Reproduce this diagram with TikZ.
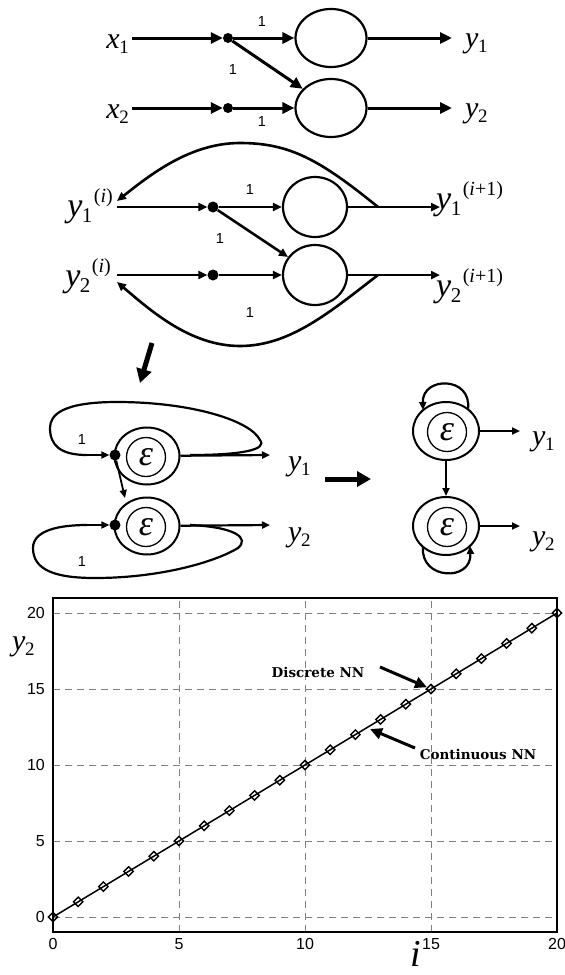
\documentclass[tikz,border=0pt]{standalone}
\usepackage{fontspec}
\setmainfont{Liberation Serif}
\newfontfamily\arialf{Liberation Sans}
\newfontfamily\dvserif{DejaVu Serif}
\usetikzlibrary{arrows.meta,shapes.geometric}
\newcommand\vsub[2]{{\fontsize{30}{30}\selectfont\itshape #1}\kern-0.5pt\raisebox{-5pt}{\fontsize{19}{19}\selectfont #2}}
\newcommand\bigvsub[2]{{\fontsize{34}{34}\selectfont\itshape #1}\kern-0.5pt\raisebox{-6pt}{\fontsize{21}{21}\selectfont #2}}
\newcommand\vsubsup[3]{\bigvsub{#1}{#2}\kern1.5pt\raisebox{14pt}{\fontsize{20}{20}\selectfont (#3)}}
\newcommand\epsglyph{{\fontsize{36}{36}\selectfont\itshape ε}}
\begin{document}
\begin{tikzpicture}[x=1pt,y=-1pt,
  wire/.style={line width=3pt},
  wiretwo/.style={line width=2.6pt},
  wirethree/.style={line width=2.2pt},
  tipA/.style={-{Triangle[length=12pt,width=11pt]}},
  tipB/.style={-{Triangle[length=9pt,width=8pt]}},
  tipC/.style={-{Triangle[length=8pt,width=7pt]}},
  bigarrow/.style={line width=5pt,-{Triangle[length=14pt,width=15pt]}},
  neuron/.style={draw,ellipse,line width=2.2pt,inner sep=0},
  inner/.style={draw,circle,line width=1.3pt,inner sep=0,minimum size=39pt},
  junc/.style={circle,fill,inner sep=0,minimum size=10pt},
  one/.style={font=\arialf\fontsize{14.5}{14.5}\selectfont,inner sep=0},
  lab/.style={inner sep=0},
  tick/.style={font=\arialf\fontsize{16}{16}\selectfont,inner sep=0},
  grid/.style={draw=gray,line width=1pt,dash pattern=on 7pt off 5pt},
  note/.style={font=\dvserif\bfseries\fontsize{13.5}{13.5}\selectfont,inner sep=0},
]
\useasboundingbox (0,0) rectangle (565,975);

% ---------- top network ----------
\node[neuron,minimum width=71pt,minimum height=58pt] (n1) at (331,38) {};
\node[neuron,minimum width=71pt,minimum height=58pt] (n2) at (331,108) {};
\node[junc] (j1) at (228,38) {};
\node[junc] (j2) at (228,108) {};
\node[lab,anchor=base east] (x1) at (129,48) {\vsub{x}{1}};
\node[lab,anchor=base east] (x2) at (129,118) {\vsub{x}{2}};
\coordinate (x1s) at (132,38);
\coordinate (x2s) at (132,108);
\draw[wire,tipA] (x1s) -- (j1);
\draw[wire,tipA] (x2s) -- (j2);
\draw[wire,tipA] (j1) -- (n1);
\draw[wire,tipA] (j2) -- (n2);
\draw[wire,tipA] (j1) -- (n2);
\coordinate (y1e) at (452,38);
\coordinate (y2e) at (452,108);
\draw[wire,tipA] (n1) -- (y1e);
\draw[wire,tipA] (n2) -- (y2e);
\node[lab,anchor=base west] (y1) at (465,47) {\vsub{y}{1}};
\node[lab,anchor=base west] (y2) at (465,117) {\vsub{y}{2}};
\node[one] (w11) at (262,22) {1};
\node[one] (w12) at (233,70) {1};
\node[one] (w22) at (262,122) {1};

% ---------- iterative network ----------
\node[neuron,minimum width=64pt,minimum height=60pt] (m1) at (315,207) {};
\node[neuron,minimum width=64pt,minimum height=60pt] (m2) at (315,275) {};
\node[junc,minimum size=11pt] (k1) at (213,207) {};
\node[junc,minimum size=11pt] (k2) at (213,275) {};
\coordinate (s1) at (117,207);
\coordinate (s2) at (117,275);
\draw[wiretwo,tipB] (s1) -- (k1);
\draw[wiretwo,tipB] (s2) -- (k2);
\draw[wiretwo,tipB] (k1) -- (m1);
\draw[wiretwo,tipB] (k2) -- (m2);
\draw[wiretwo,tipB] (k1) -- (m2);
\coordinate (o1) at (440,207);
\coordinate (o2) at (440,275);
\draw[wiretwo,tipB] (m1) -- (o1);
\draw[wiretwo,tipB] (m2) -- (o2);
\coordinate (b1) at (378,207);
\coordinate (b2) at (378,275);
\coordinate (f1) at (117,201);
\coordinate (f2) at (117,282);
\draw[wiretwo,tipB] (b1) .. controls (320,160) and (290,143) .. (240,143) .. controls (190,143) and (150,175) .. (f1);
\draw[wiretwo,tipB] (b2) .. controls (330,312) and (290,346) .. (240,346) .. controls (190,346) and (150,310) .. (f2);
\node[lab,anchor=base east] (yi1) at (113,216) {\vsubsup{y}{1}{\textit{i}}};
\node[lab,anchor=base east] (yi2) at (111,286) {\vsubsup{y}{2}{\textit{i}}};
\node[lab,anchor=base west] (yo1) at (436,209) {\vsubsup{y}{1}{\textit{i}+1}};
\node[lab,anchor=base west] (yo2) at (436,296) {\vsubsup{y}{2}{\textit{i}+1}};
\node[one] (v11) at (250,190) {1};
\node[one] (v12) at (220,239) {1};
\node[one] (v22) at (250,313) {1};

% ---------- transition arrows ----------
\coordinate (da1) at (152,343);
\coordinate (da2) at (140,383);
\draw[bigarrow] (da1) -- (da2);
\coordinate (ra1) at (325,479);
\coordinate (ra2) at (371,479);
\draw[bigarrow] (ra1) -- (ra2);

% ---------- left epsilon network ----------
\node[neuron,line width=2pt,minimum width=65pt,minimum height=57pt] (e1) at (147,456) {};
\node[neuron,line width=2pt,minimum width=65pt,minimum height=57pt] (e2) at (147,526) {};
\node[inner] (e1i) at (146,457) {\epsglyph};
\node[inner] (e2i) at (146,527) {\epsglyph};
\node[junc,minimum size=11pt] (g1) at (115,455) {};
\node[junc,minimum size=11pt] (g2) at (115,525) {};
\coordinate (gs1) at (87,455);
\coordinate (gs2) at (87,525);
\draw[wirethree,tipC] (gs1) -- (g1);
\draw[wirethree,tipC] (gs2) -- (g2);
\coordinate (go1) at (270,455);
\coordinate (go2) at (270,525);
\draw[wirethree,tipC] (e1) -- (go1);
\draw[wirethree,tipC] (e2) -- (go2);
\coordinate (e2t) at (125,498);
\draw[line width=1.8pt,tipC] (g1) -- (e2t);
\coordinate (lj1) at (190,455);
\coordinate (lj2) at (190,525);
\draw[wirethree] (lj1) .. controls (240,455) and (268,450) .. (260,440) .. controls (250,420) and (190,402) .. (117,402) .. controls (62,402) and (50,415) .. (50,428) .. controls (50,445) and (60,455) .. (gs1);
\draw[wirethree] (gs2) .. controls (60,525) and (33,530) .. (33,548) .. controls (33,570) and (55,578) .. (95,578) .. controls (160,578) and (215,562) .. (238,548) .. controls (250,538) and (235,527) .. (lj2);
\node[one] (u1) at (82,440) {1};
\node[one] (u2) at (82,562) {1};
\node[lab,anchor=base west] (ly1) at (288,470) {\vsub{y}{1}};
\node[lab,anchor=base west] (ly2) at (288,541) {\vsub{y}{2}};

% ---------- right epsilon network ----------
\node[neuron,line width=2pt,minimum width=66pt,minimum height=58pt] (r1) at (446,431) {};
\node[neuron,line width=2pt,minimum width=66pt,minimum height=58pt] (r2) at (446,526) {};
\node[inner] (r1i) at (447,432) {\epsglyph};
\node[inner] (r2i) at (447,527) {\epsglyph};
\draw[wirethree,tipC] (r1) -- (r2);
\coordinate (ro1) at (520,431);
\coordinate (ro2) at (520,526);
\draw[wirethree,tipC] (r1) -- (ro1);
\draw[wirethree,tipC] (r2) -- (ro2);
\coordinate (rl1a) at (468,409);
\coordinate (rl1b) at (423,410);
\coordinate (rl2a) at (423,547);
\coordinate (rl2b) at (470,546);
\draw[wirethree,tipC] (rl1a) .. controls (472,376) and (422,376) .. (rl1b);
\draw[wirethree,tipC] (rl2a) .. controls (420,580) and (472,582) .. (rl2b);
\node[lab,anchor=base west] (ry1) at (532,445) {\vsub{y}{1}};
\node[lab,anchor=base west] (ry2) at (532,545) {\vsub{y}{2}};

% ---------- plot ----------
\begin{scope}[shift={(53,917)},x=25.2pt,y=15.2pt]
  \foreach \g in {5,10,15} \draw[grid] (\g,-1) -- (\g,21);
  \foreach \g in {0,5,10,15,20} \draw[grid] (0,\g) -- (20,\g);
  \draw[line width=2pt] (0,-1) rectangle (20,21);
  \draw[line width=1.5pt] (0,0) -- (20,20);
  \foreach \k in {0,...,20}
    \node[diamond,draw,line width=1.4pt,inner sep=0,minimum size=10pt] (pt\k) at (\k,\k) {};
  \foreach \g in {0,5,10,15,20} {
    \node[tick,anchor=east] (yt\g) at ([xshift=-8pt]0,\g) {\g};
    \node[tick,anchor=north] (xt\g) at ([yshift=-6pt]\g,-1) {\g};
  }
\end{scope}
\node[lab,anchor=base west] (py2) at (12,650) {\vsub{y}{2}};
\node[lab,anchor=base] (pi) at (416,966) {\fontsize{38}{38}\selectfont\itshape i};
\node[note] (dnn) at (318,672) {Discrete NN};
\node[note] (cnn) at (478,754) {Continuous NN};
\coordinate (da) at (380,667);
\coordinate (cn) at (415,748);
\draw[line width=3pt,-{Triangle[length=12pt,width=11pt]}] (da) -- (pt15);
\coordinate (cnt) at (370,729);
\draw[line width=3pt,-{Triangle[length=12pt,width=11pt]}] (cn) -- (cnt);
\end{tikzpicture}
\end{document}
